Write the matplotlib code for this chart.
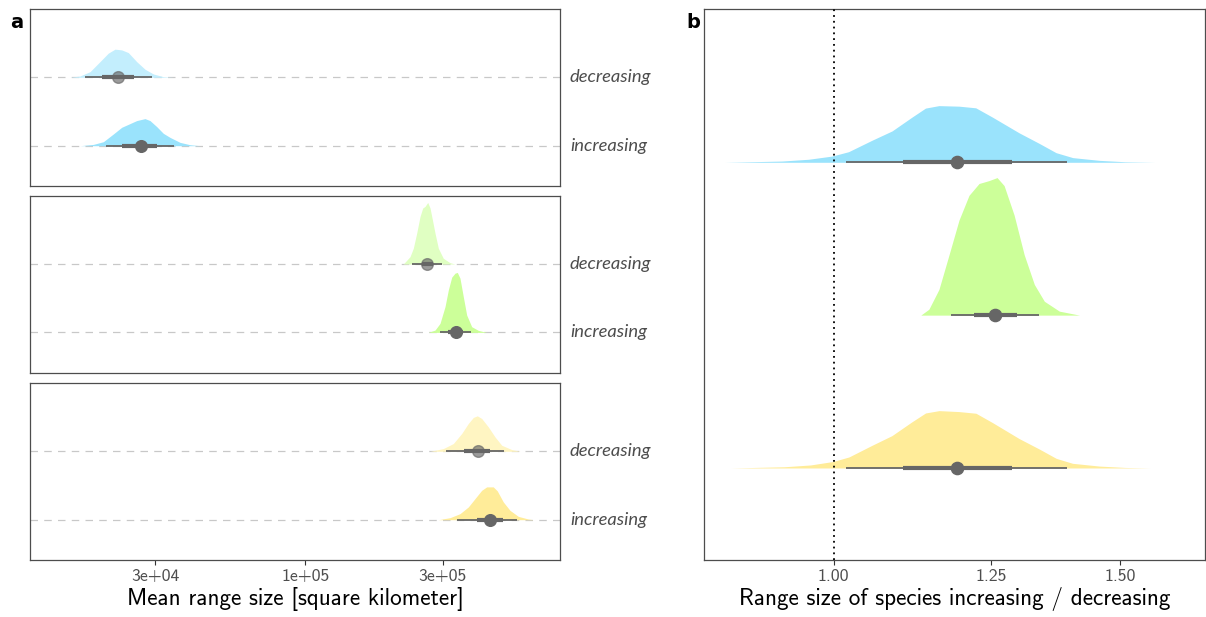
import matplotlib
matplotlib.use("Agg")
import matplotlib.pyplot as plt
import matplotlib.transforms as mtransforms
from matplotlib.ticker import NullLocator, FixedLocator, FixedFormatter

# ---------------- Panel a data (mean range size, km^2) ----------------
levels_a = ["increasing", "decreasing"]

# facet 1 (blue)
blue_dec_x = [15200, 16460, 17830, 19310, 20640, 21780, 22980, 24230, 25910, 27690, 29600, 32060, 34730]
blue_dec_d = [0, .021, .091, .254, .392, .457, .445, .401, .254, .131, .054, .010, 0]
blue_inc_x = [16460, 18310, 19840, 21500, 22980, 24230, 25910, 27690, 28820, 30410, 32060, 33830, 36660, 39700, 43010]
blue_inc_d = [0, .021, .065, .191, .299, .347, .408, .440, .408, .310, .201, .135, .054, .016, 0]
blue_median = [26750, 22250]
blue_q66 = [(23030, 30480), (19620, 25360)]
blue_q95 = [(20270, 34930), (17130, 29290)]

# facet 2 (green)
green_dec_x = [218900, 230900, 237100, 243600, 250200, 255600, 260400, 266100, 271100, 277000, 282100, 289700, 301400, 318100, 331000]
green_dec_d = [0, .119, .256, .501, .772, .909, .935, 1.0, .909, .690, .501, .256, .093, .021, 0]
green_inc_x = [267400, 282100, 293600, 305600, 313800, 322400, 331000, 337200, 344500, 353700, 363500, 378300, 398900, 426500]
green_inc_d = [0, .038, .147, .419, .690, .897, .962, .974, .881, .582, .282, .093, .033, 0]
green_median = [333700, 264600]
green_q66 = [(313000, 352900), (253600, 277000)]
green_q95 = [(293600, 375300), (234100, 297600)]

# facet 3 (yellow)
yellow_dec_x = [271100, 301400, 326600, 349200, 368200, 383300, 395700, 409900, 432200, 456000, 481100, 521200, 557000]
yellow_dec_d = [0, .044, .126, .289, .452, .550, .576, .533, .396, .233, .098, .028, 0]
yellow_inc_x = [289700, 318100, 344500, 368200, 388500, 409900, 426500, 449600, 464300, 487100, 514000, 549500, 595300, 619500]
yellow_inc_d = [0, .033, .098, .207, .343, .478, .533, .533, .468, .289, .152, .054, .011, 0]
yellow_median = [438000, 397000]
yellow_q66 = [(393800, 487100), (356600, 438000)]
yellow_q95 = [(337200, 542500), (308000, 489900)]

ticks_a = [3e4, 1e5, 3e5]
ticklabels_a = ["3e+04", "1e+05", "3e+05"]

# ---------------- Panel b data (ratio increasing / decreasing) ----------------
b_blue_x = [0.8575, 0.9293, 0.9652, 0.9976, 1.0215, 1.0558, 1.0863, 1.1175, 1.1389, 1.1607, 1.1941,
            1.2227, 1.2516, 1.3001, 1.3377, 1.3697, 1.4024, 1.4565, 1.5100, 1.5750]
b_blue_d = [0, .009, .022, .045, .077, .160, .228, .329, .394, .412, .408,
            .396, .329, .214, .137, .070, .034, .014, .004, 0]
b_green_x = [1.1313, 1.1443, 1.1607, 1.1774, 1.1941, 1.2111, 1.2284, 1.2458, 1.2601, 1.2727, 1.2909,
             1.3094, 1.3283, 1.3472, 1.3761, 1.4161]
b_green_d = [0, .043, .187, .439, .691, .871, .957, .978, 1.0, .942, .727,
             .439, .223, .101, .029, 0]
b_yellow_x = [0.8650, 0.9330, 0.9680, 0.9990, 1.0220, 1.0560, 1.0860, 1.1170, 1.1390, 1.1610, 1.1940,
              1.2230, 1.2520, 1.3000, 1.3380, 1.3700, 1.4020, 1.4560, 1.5100, 1.5650]
b_yellow_d = [0, .009, .022, .047, .080, .165, .235, .335, .400, .417, .410,
              .398, .330, .214, .137, .070, .034, .014, .004, 0]
b_median = [1.1912, 1.2565, 1.1912]          # blue, green, yellow
b_q66 = [(1.1033, 1.2867), (1.2197, 1.2964), (1.1033, 1.2867)]
b_q95 = [(1.0182, 1.3905), (1.1807, 1.3377), (1.0182, 1.3905)]
ticks_b = [1.0, 1.25, 1.5]
ticklabels_b = ["1.00", "1.25", "1.50"]

# ---------------- Styling ----------------
C_BLUE, C_BLUE_L = "#9AE3FC", "#C3EEFD"
C_GREEN, C_GREEN_L = "#CCFF99", "#E0FFC2"
C_YEL, C_YEL_L = "#FFEC99", "#FFF5C2"
C_PT = "#666666"
SPINE = "#4d4d4d"
TXT = "#4d4d4d"
FONT = "cmss10"
SCALE = 0.9

W, H = 1206, 617
fig = plt.figure(figsize=(W / 100, H / 100), dpi=100)


def rect(x0, y0, x1, y1):
    return [x0 / W, 1 - y1 / H, (x1 - x0) / W, (y1 - y0) / H]


def style_axes(ax):
    for s in ax.spines.values():
        s.set_color(SPINE)
        s.set_linewidth(0.9)
    ax.set_yticks([])
    ax.yaxis.set_minor_locator(NullLocator())
    ax.tick_params(axis="x", which="major", length=3.5, width=0.8, color="#333333",
                   labelcolor=TXT, labelsize=12.8, pad=3)
    for lab in ax.get_xticklabels():
        lab.set_fontfamily(FONT)


def draw_slab(ax, xs, ds, y, color):
    top = [y + SCALE * d for d in ds]
    ax.fill_between(xs, [y] * len(xs), top, color=color, lw=0, zorder=2)


def draw_interval(ax, y, med, q66, q95, alpha=1.0, ms=8.4):
    ax.plot(q95, [y, y], color=C_PT, lw=1.3, solid_capstyle="butt", zorder=3)
    ax.plot(q66, [y, y], color=C_PT, lw=3.0, solid_capstyle="butt", zorder=3)
    ax.plot([med], [y], marker="o", ms=ms, color=C_PT, mec=C_PT, alpha=alpha, zorder=4, lw=0)


facets = [
    (rect(30, 9.3, 560, 186), C_BLUE, C_BLUE_L, blue_inc_x, blue_inc_d, blue_dec_x, blue_dec_d,
     blue_median, blue_q66, blue_q95),
    (rect(30, 196, 560, 372.7), C_GREEN, C_GREEN_L, green_inc_x, green_inc_d, green_dec_x, green_dec_d,
     green_median, green_q66, green_q95),
    (rect(30, 383.3, 560, 560), C_YEL, C_YEL_L, yellow_inc_x, yellow_inc_d, yellow_dec_x, yellow_dec_d,
     yellow_median, yellow_q66, yellow_q95),
]

axes_a = []
for i, (r, cinc, cdec, ix, idd, dx, dd, med, q66, q95) in enumerate(facets):
    ax = fig.add_axes(r)
    axes_a.append(ax)
    ax.set_xscale("log")
    ax.set_xlim(10 ** 4.0426, 10 ** 5.8848)
    ax.set_ylim(0.411, 2.994)
    for yv in (1, 2):
        ax.axhline(yv, color="#c8c8c8", lw=0.9, ls=(0, (6, 5)), zorder=1)
    draw_slab(ax, dx, dd, 2, cdec)
    draw_slab(ax, ix, idd, 1, cinc)
    draw_interval(ax, 1, med[0], q66[0], q95[0])
    draw_interval(ax, 2, med[1], q66[1], q95[1], alpha=0.65)
    trans = mtransforms.blended_transform_factory(ax.transAxes, ax.transData)
    for yv, lab in zip((1, 2), levels_a):
        ax.text(1 + 10 / 530, yv, lab, transform=trans, ha="left", va="center",
                fontsize=13.2, style="italic", family="Lato", color=TXT, clip_on=False)
    ax.xaxis.set_major_locator(FixedLocator(ticks_a))
    ax.xaxis.set_minor_locator(NullLocator())
    if i < 2:
        ax.tick_params(axis="x", which="both", bottom=False, labelbottom=False)
    else:
        ax.xaxis.set_major_formatter(FixedFormatter(ticklabels_a))
        ax.set_xlabel("Mean range size [square kilometer]", fontsize=16.7, family=FONT,
                      labelpad=2, color="black")
    style_axes(ax)

# ---------------- Panel b ----------------
axb = fig.add_axes(rect(704, 9.3, 1204.7, 560))
axb.set_xscale("log")
axb.set_xlim(0.8327, 1.690)
axb.set_ylim(0.398, 4.001)
draw_slab(axb, b_blue_x, b_blue_d, 3, C_BLUE)
draw_slab(axb, b_green_x, b_green_d, 2, C_GREEN)
draw_slab(axb, b_yellow_x, b_yellow_d, 1, C_YEL)
for yv, k in zip((3, 2, 1), range(3)):
    draw_interval(axb, yv, b_median[k], b_q66[k], b_q95[k], ms=8.8)
axb.axvline(1.0, color="black", lw=1.3, ls=(0, (1, 2.2)), zorder=5)
axb.xaxis.set_major_locator(FixedLocator(ticks_b))
axb.xaxis.set_major_formatter(FixedFormatter(ticklabels_b))
axb.xaxis.set_minor_locator(NullLocator())
axb.set_xlabel("Range size of species increasing / decreasing", fontsize=16.7, family=FONT,
               labelpad=2, color="black")
style_axes(axb)

fig.text(17 / W, 1 - 22 / H, "a", fontsize=14, fontweight="bold", ha="center", va="center",
         family="DejaVu Sans")
fig.text(693 / W, 1 - 22 / H, "b", fontsize=14, fontweight="bold", ha="center", va="center",
         family="DejaVu Sans")

fig.savefig("out.png", dpi=100)
